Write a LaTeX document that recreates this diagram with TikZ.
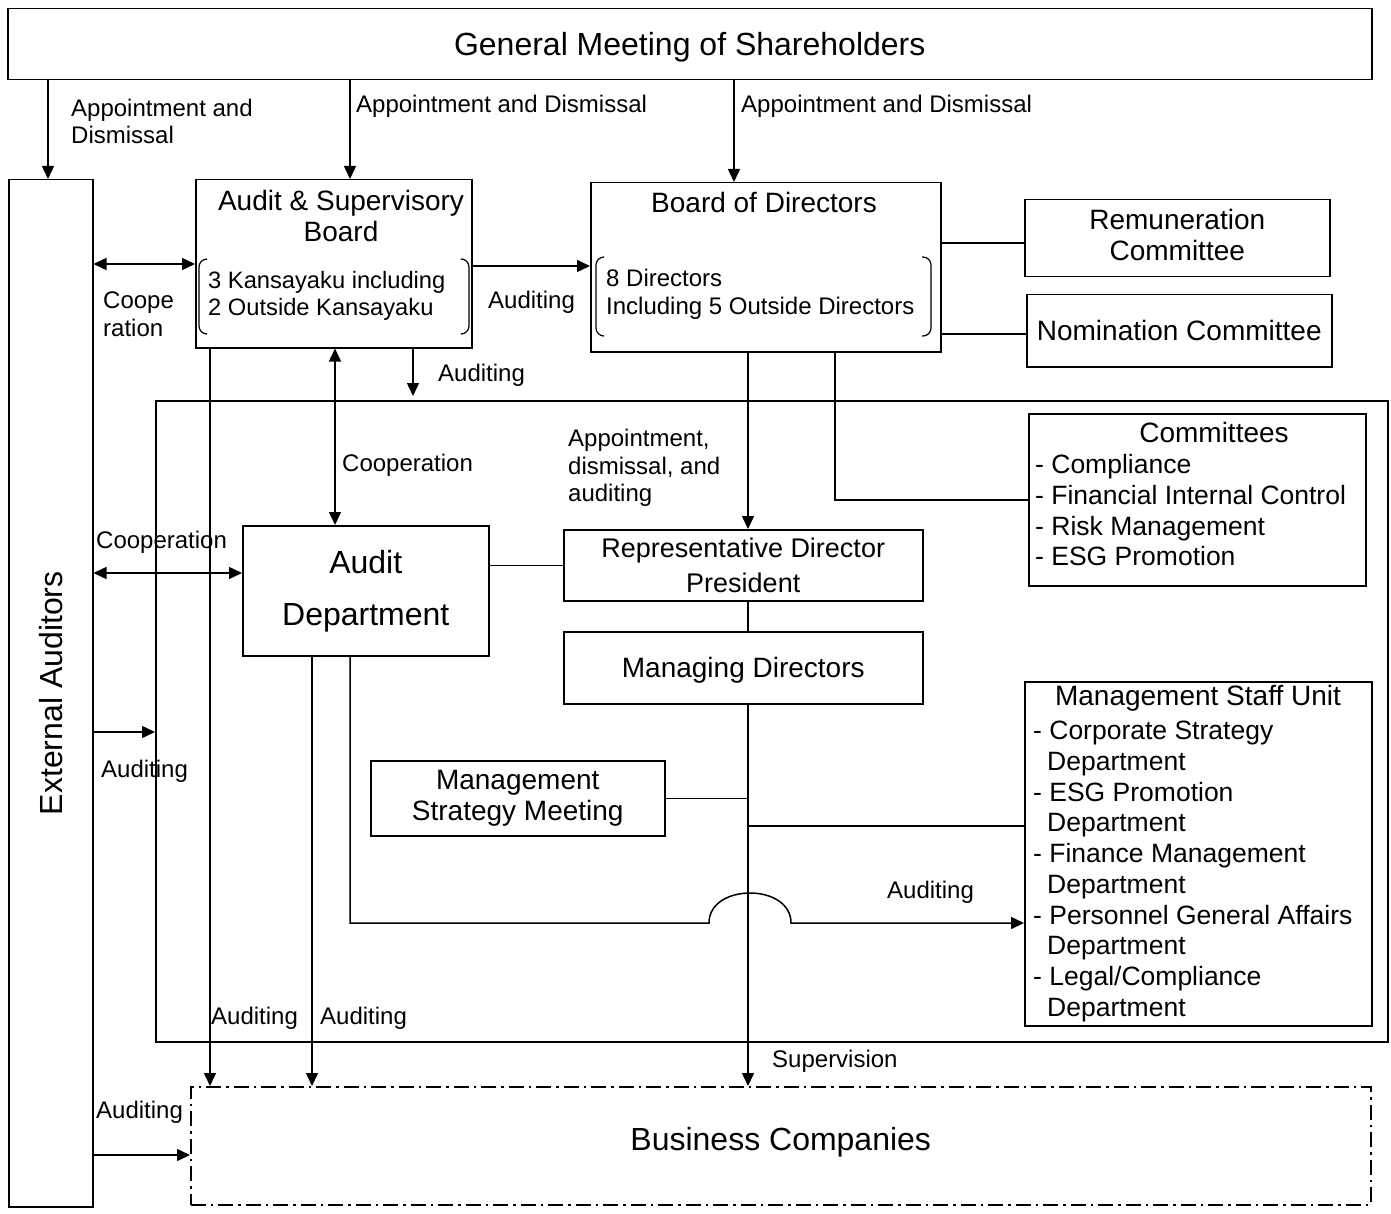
\documentclass[tikz,border=0pt]{standalone}
\usepackage{fontspec}
\setmainfont{Liberation Sans}
\usetikzlibrary{arrows.meta}

\begin{document}
\begin{tikzpicture}
    [x=1pt,y=-1pt,
    box/.style={draw,line width=1.5pt,inner sep=0pt,anchor=north west,align=center},
    fontbig/.style={font=\fontsize{32}{38}\selectfont},
    fontmid/.style={font=\fontsize{28}{31}\selectfont},
    fontlbl/.style={font=\fontsize{24}{27.5}\selectfont},
    listtext/.style={font=\fontsize{26.5}{31}\selectfont,inner sep=0pt,anchor=base west},
    lbl/.style={fontlbl,inner sep=0pt,anchor=base west},
    lblblock/.style={fontlbl,inner sep=0pt,anchor=west,align=left},
    conn/.style={line width=1.5pt},
    arr/.style={conn,-{Triangle[length=13pt,width=12pt]}},
    dblarr/.style={conn,{Triangle[length=13pt,width=12pt]}-{Triangle[length=13pt,width=12pt]}},
    bracket/.style={line width=1.2pt,rounded corners=8pt}]
    \useasboundingbox (0,0) rectangle (1391,1214);

    % boxes
    \node[box,fontbig,text depth=0pt,minimum width=1364,minimum height=71] (gms) at (7,8) {General Meeting of Shareholders};
    \node[box,minimum width=84,minimum height=1027] (extaud) at (8,179) {};
    \node[fontbig,rotate=90] (extaudtext) at (extaud.center) {External Auditors};

    \node[box,minimum width=276,minimum height=168] (asb) at (195,179) {};
    \node[fontmid,align=center] (asbtitle) at (341,216) {Audit \& Supervisory\\Board};
    \node[lblblock,font=\fontsize{23.7}{27}\selectfont] (asbmembers) at (208,296) {3 Kansayaku including\\2 Outside Kansayaku};
    \draw[bracket] (206,259) -- (199,259) -- (199,334) -- (206,334);
    \draw[bracket] (462,259) -- (469,259) -- (469,334) -- (462,334);

    \node[box,minimum width=350,minimum height=169] (bod) at (590,182) {};
    \node[fontmid] (bodtitle) at (764,202) {Board of Directors};
    \node[lblblock,font=\fontsize{24}{28}\selectfont] (bodmembers) at (606,294) {8 Directors\\Including 5 Outside Directors};
    \draw[bracket] (603,257) -- (596,257) -- (596,336) -- (603,336);
    \draw[bracket] (922,257) -- (931,257) -- (931,336) -- (922,336);

    \node[box,fontmid,text depth=7pt,minimum width=305,minimum height=77] (remun) at (1024,199) {Remuneration\\Committee};
    \node[box,fontmid,minimum width=305,minimum height=72] (nomin) at (1026,294) {Nomination Committee};

    \node[box,minimum width=1232,minimum height=641] (mgmtarea) at (155,400) {};
    \draw[line width=2.8pt] (mgmtarea.north west) ++(332,1) -- ++(78,0);

    \node[box,minimum width=337,minimum height=172] (comm) at (1028,413) {};
    \node[fontmid] (commtitle) at (1214,432) {Committees};
    \foreach \entry [count=\i] in {Compliance,Financial Internal Control,Risk Management,ESG Promotion}
        \node[listtext] (commitem\i) at (1035,{473.5+30.8*(\i-1)}) {- \entry};

    \node[box,minimum width=246,minimum height=130,font=\fontsize{32}{52}\selectfont] (auditdept) at (242,525) {Audit\\Department};
    \node[box,minimum width=359,minimum height=71,font=\fontsize{27}{35}\selectfont] (repdir) at (563,529) {Representative Director\\President};
    \node[box,fontmid,text depth=0pt,minimum width=359,minimum height=72] (md) at (563,631) {Managing Directors};
    \node[box,fontmid,minimum width=294,minimum height=75] (msm) at (370,760) {Management\\Strategy Meeting};

    \node[box,minimum width=347,minimum height=344] (staff) at (1024,681) {};
    \node[fontmid] (stafftitle) at (1198,698) {Management Staff Unit};
    \foreach \dept [count=\i] in {Corporate Strategy,ESG Promotion,Finance Management,Personnel General Affairs,Legal/Compliance}{
        \node[listtext] (staffitem\i) at (1033,{739.5+61.5*(\i-1)}) {- \dept};
        \node[listtext] (staffdept\i) at (1047,{770+61.5*(\i-1)}) {Department};
    }

    \node[box,fontbig,text depth=14pt,minimum width=1180,minimum height=118,dash pattern=on 15pt off 5pt on 2.5pt off 5pt] (bc) at (190,1086) {Business Companies};

    % where the connectors run
    \coordinate (xextaud) at (48,0);
    \coordinate (xasb) at (350,0);
    \coordinate (xbod) at (734,0);
    \coordinate (xasbarea) at (413,0);
    \coordinate (xcoop) at (335,0);
    \coordinate (xasbbc) at (210,0);
    \coordinate (xcomm) at (835,0);
    \coordinate (xmain) at (748,0);
    \coordinate (xaudstaff) at (350,0);
    \coordinate (xaudbc) at (312,0);
    \coordinate (ycoop) at (0,264);
    \coordinate (yasbaud) at (0,266);
    \coordinate (yremun) at (0,243);
    \coordinate (ynomin) at (0,334);
    \coordinate (ycoopaud) at (0,573);
    \coordinate (ystaff) at (0,826);
    \coordinate (yaudstaff) at (0,923);
    \coordinate (yextarea) at (0,732);
    \coordinate (yextbc) at (0,1155);

    % connectors
    \draw[arr] (gms.south -| xextaud) -- (extaud.north -| xextaud);
    \draw[arr] (gms.south -| xasb) -- (asb.north -| xasb);
    \draw[arr] (gms.south -| xbod) -- (bod.north -| xbod);
    \draw[dblarr] (extaud.east |- ycoop) -- (asb.west |- ycoop);
    \draw[arr] (asb.east |- yasbaud) -- (bod.west |- yasbaud);
    \draw[arr,shorten >=4pt] (asb.south -| xasbarea) -- (mgmtarea.north -| xasbarea);
    \draw[dblarr] (asb.south -| xcoop) -- (auditdept.north -| xcoop);
    \draw[arr] (asb.south -| xasbbc) -- (bc.north -| xasbbc);
    \draw[conn] (bod.east |- yremun) -- (remun.west |- yremun);
    \draw[conn] (bod.east |- ynomin) -- (nomin.west |- ynomin);
    \draw[conn] (bod.south -| xcomm) |- (comm.west);
    \draw[arr] (bod.south -| xmain) -- (repdir.north -| xmain);
    \draw[conn] (repdir.south -| xmain) -- (md.north -| xmain);
    \draw[arr] (md.south -| xmain) -- (bc.north -| xmain);
    \draw[conn] (msm.east) -- (msm.east -| xmain);
    \draw[conn] (xmain |- ystaff) -- (staff.west |- ystaff);
    \draw[conn] (auditdept.east |- repdir.west) -- (repdir.west);
    \draw[dblarr] (extaud.east |- ycoopaud) -- (auditdept.west |- ycoopaud);
    \draw[arr] (auditdept.south -| xaudstaff) |- (709,923) .. controls (709,883) and (791,883) .. (791,923) -- (staff.west |- yaudstaff);
    \draw[arr] (auditdept.south -| xaudbc) -- (bc.north -| xaudbc);
    \draw[arr] (extaud.east |- yextarea) -- (mgmtarea.west |- yextarea);
    \draw[arr] (extaud.east |- yextbc) -- (bc.west |- yextbc);

    % labels
    \node[lblblock] (lblgmsext) at (71,121.5) {Appointment and\\Dismissal};
    \node[lbl] (lblgmsasb) at (356,112.6) {Appointment and Dismissal};
    \node[lbl] (lblgmsbod) at (741,112.6) {Appointment and Dismissal};
    \node[lblblock] (lblcoopasb) at (103,314) {Coope\\ration};
    \node[lbl] (lblaudbod) at (488,308.6) {Auditing};
    \node[lbl] (lblaudarea) at (438,381.6) {Auditing};
    \node[lbl] (lblcoopdept) at (342,471.6) {Cooperation};
    \node[lblblock] (lblappoint) at (568,468) {Appointment,\\dismissal, and\\auditing};
    \node[lbl] (lblcoopext) at (96,548.6) {Cooperation};
    \node[lbl] (lblextarea) at (101,777.6) {Auditing};
    \node[lbl] (lblaudstaff) at (887,898.6) {Auditing};
    \node[lbl] (lblasbbc) at (211,1024.6) {Auditing};
    \node[lbl] (lbldeptbc) at (320,1024.6) {Auditing};
    \node[lbl] (lblsuper) at (772,1067.6) {Supervision};
    \node[lbl] (lblextbc) at (96,1118.6) {Auditing};
\end{tikzpicture}
\end{document}
